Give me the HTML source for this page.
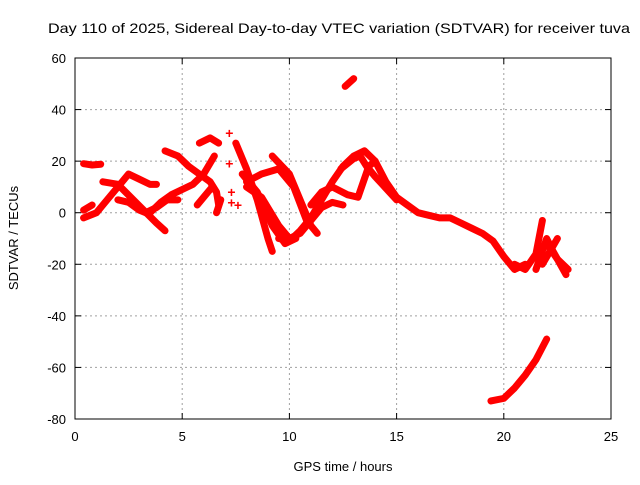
<!DOCTYPE html>
<html><head><meta charset="utf-8"><style>
body{margin:0;background:#fff;}
svg text{font-family:"Liberation Sans",sans-serif;font-size:13px;fill:#000;}
</style></head><body>
<svg id="chart" width="640" height="480">
<text x="339" y="33" text-anchor="middle" style="font-size:14px" textLength="582" lengthAdjust="spacingAndGlyphs">Day 110 of 2025, Sidereal Day-to-day VTEC variation (SDTVAR) for receiver tuva</text>
<g id="grid"></g><g id="axes"></g><g id="series"></g>
<text x="343" y="471" text-anchor="middle">GPS time / hours</text>
<text transform="translate(18,238) rotate(-90)" text-anchor="middle">SDTVAR / TECUs</text>
</svg>
<script>
const xTicks=[0,5,10,15,20,25];
const yTicks=[60,40,20,0,-20,-40,-60,-80];
const series=[
[[0.4,19],[0.8,18.5],[1.2,18.8]],
[[0.4,1],[0.8,3]],
[[0.4,-2],[1,0],[1.5,5],[2,10],[2.5,15],[3,13],[3.5,11],[3.8,11]],
[[1.3,12],[2,11],[2.6,6],[3.2,1],[3.8,-4],[4.2,-7]],
[[2,5],[2.5,4],[3,1],[3.3,0],[3.8,2],[4.3,5],[4.8,5]],
[[3.5,0],[4,4],[4.5,7],[5,9],[5.5,11],[6,15],[6.5,22]],
[[4.2,24],[4.8,22],[5.3,18],[5.8,15],[6.3,12],[6.6,8],[6.7,3]],
[[5.8,27],[6.3,29],[6.7,27]],
[[5.7,3],[6,6],[6.4,10]],
[[6.6,0],[6.8,5]],
[[7.5,27],[8,17],[8.5,5],[9,-10],[9.2,-15]],
[[8,12],[8.7,15],[9.5,17],[10.2,10],[10.8,-3],[11.3,-8]],
[[8,10],[8.7,6],[9.5,-5],[10,-10],[10.5,-8],[11,-3]],
[[9.2,22],[10,15],[10.5,5],[11,-5]],
[[7.8,15],[8.5,8],[9.2,-5],[9.8,-12],[10.3,-10]],
[[9.5,-10],[10,-11],[10.5,-7],[11,-2],[11.5,5],[12,12],[12.5,18],[13,22],[13.5,24],[14,20],[14.5,12],[15,6],[15.5,3],[16,0],[16.5,-1],[17,-2],[17.5,-2],[18,-4],[18.5,-6],[19,-8],[19.5,-11],[20,-17],[20.5,-22],[21,-20]],
[[11,3],[11.5,8],[12,10],[12.7,7],[13.2,6],[13.7,18],[14,20]],
[[11,-3],[11.5,2],[12,4],[12.5,3]],
[[12.4,17],[13,21],[13.3,22],[13.6,18],[14,14],[15,5]],
[[12.6,49],[13,52]],
[[19.4,-73],[20,-72],[20.5,-68],[21,-63],[21.5,-57],[22,-49]],
[[20.5,-20],[21,-22],[21.5,-16],[21.8,-3]],
[[21.5,-22],[22,-10],[22.3,-15],[22.9,-24]],
[[21.8,-20],[22.5,-10]],
[[22,-12],[22.5,-18],[23,-22]]
];
const dots=[[7.2,31],[7.2,19],[7.3,8],[7.3,4],[7.6,3]];
const X0=75,X1=611,Y0=58,Y1=419;
const sx=v=>X0+(v-0)/25*(X1-X0);
const sy=v=>Y1-(v+80)/140*(Y1-Y0);
const NS="http://www.w3.org/2000/svg";
const mk=(t,a,p)=>{const e=document.createElementNS(NS,t);for(const k in a)e.setAttribute(k,a[k]);p.appendChild(e);return e;};
const grid=document.getElementById('grid'),axes=document.getElementById('axes'),sg=document.getElementById('series');
xTicks.forEach(t=>{
 if(t>0&&t<25){const l=mk('line',{x1:sx(t),x2:sx(t),y1:Y0,y2:Y1,stroke:'#a0a0a0','stroke-dasharray':'2,3'},grid);
 
 }
 mk('line',{x1:sx(t),x2:sx(t),y1:Y1,y2:Y1-6,stroke:'#000'},axes);
 mk('line',{x1:sx(t),x2:sx(t),y1:Y0,y2:Y0+6,stroke:'#000'},axes);
 const tx=mk('text',{x:sx(t),y:Y1+22,'text-anchor':'middle'},axes);tx.textContent=t;
 
 
});
yTicks.forEach(t=>{
 if(t>-80&&t<60){const l=mk('line',{x1:X0,x2:X1,y1:sy(t),y2:sy(t),stroke:'#a0a0a0','stroke-dasharray':'2,3'},grid);
 
 }
 mk('line',{x1:X0,x2:X0+6,y1:sy(t),y2:sy(t),stroke:'#000'},axes);
 mk('line',{x1:X1,x2:X1-6,y1:sy(t),y2:sy(t),stroke:'#000'},axes);
 const tx=mk('text',{x:X0-9,y:sy(t)+5,'text-anchor':'end'},axes);tx.textContent=t;
 
 
});
const fr=mk('rect',{x:X0,y:Y0,width:X1-X0,height:Y1-Y0,fill:'none',stroke:'#000'},axes);


series.forEach(s=>{
 const p=mk('polyline',{points:s.map(d=>sx(d[0])+','+sy(d[1])).join(' '),fill:'none',stroke:'#ff0000','stroke-width':7,'stroke-linejoin':'round','stroke-linecap':'round'},sg);
 
 
});
dots.forEach(d=>{
 const t=mk('text',{x:sx(d[0]),y:sy(d[1])+5,'text-anchor':'middle',style:'fill:#ff0000;font-weight:bold;font-size:14px'},sg);t.textContent='+';
 
 
});
</script>
</body></html>
